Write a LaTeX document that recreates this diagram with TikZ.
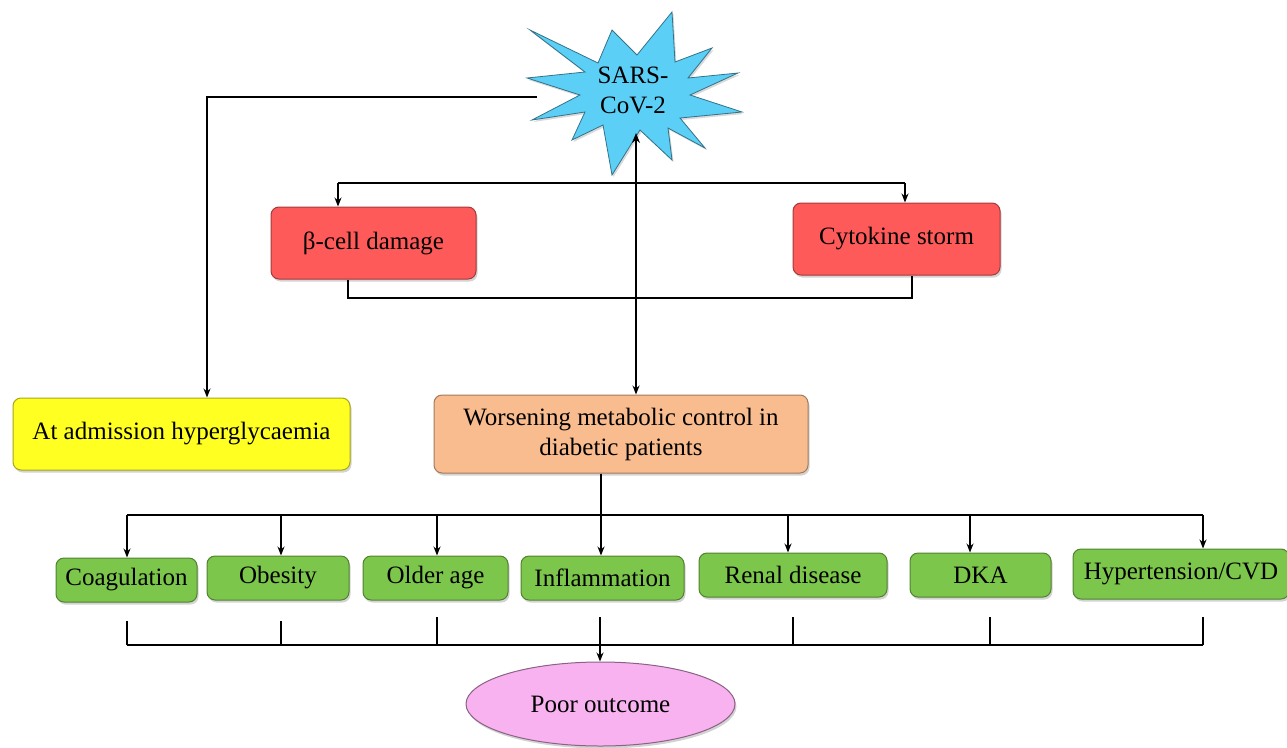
\documentclass[tikz,border=0pt]{standalone}
\usepackage{fontspec}
\setmainfont{Liberation Serif}
\usetikzlibrary{shapes.geometric,arrows.meta,shadows}
\definecolor{cyel}{HTML}{FFFF22}
\definecolor{corg}{HTML}{F9BC8E}
\definecolor{cred}{HTML}{FF5A5A}
\definecolor{cgrn}{HTML}{7CC64C}
\definecolor{cpnk}{HTML}{F9B2F0}
\definecolor{cstar}{HTML}{5CCFF7}
\begin{document}
\begin{tikzpicture}[x=1pt,y=-1pt,
  txt/.style={font=\fontsize{25}{30}\selectfont, align=center, inner sep=0pt},
  box/.style={txt, draw=#1!65!black, fill=#1, rounded corners=8pt, line width=1pt,
    drop shadow={opacity=0.35,shadow xshift=1.5pt,shadow yshift=-2.5pt}},
  conn/.style={line width=1.4pt, black},
  arr/.style={conn, -{Stealth[length=9pt,width=7pt]}},
  darr/.style={conn, {Stealth[length=10pt,width=8pt]}-{Stealth[length=9pt,width=7pt]}}]
\useasboundingbox (0,0) rectangle (1287,747);

% star
\draw[fill=cstar, draw=cstar!55!black, line width=0.8pt,
  drop shadow={opacity=0.3,shadow xshift=1.5pt,shadow yshift=-2pt}]
  (530,30) -- (598,63) -- (612,30) -- (637,55) -- (672,12) -- (675,62)
  -- (712,48) -- (688,78) -- (738,73) -- (690,95) -- (742,112) -- (680,118)
  -- (705,148) -- (668,128) -- (672,160) -- (640,130) -- (612,175) -- (603,125)
  -- (572,140) -- (585,112) -- (532,120) -- (580,95) -- (527,78) -- (585,72) -- cycle;
\node[txt] (sars) at (633,90) {SARS-\\CoV-2};
\coordinate (sarsL) at (537,97);
\coordinate (sarsB) at (636,133);

% boxes
\node[box=cyel, minimum width=337pt, minimum height=72pt] (adm) at (181.5,434) {At admission hyperglycaemia};
\node[box=corg, minimum width=374pt, minimum height=78pt] (worse) at (621,434) {Worsening metabolic control in\\diabetic patients};
\node[box=cred, minimum width=205pt, minimum height=72pt] (beta) at (373.5,243) {β-cell damage};
\node[box=cred, minimum width=207pt, minimum height=72pt] (cyto) at (896.5,239) {Cytokine storm};

\node[box=cgrn, minimum width=141pt, minimum height=44pt] (coag) at (126.5,580) {Coagulation};
\node[box=cgrn, minimum width=142pt, minimum height=44pt] (obes) at (278,578) {Obesity};
\node[box=cgrn, minimum width=145pt, minimum height=44pt] (old) at (435.5,578) {Older age};
\node[box=cgrn, minimum width=163pt, minimum height=44pt] (infl) at (602.5,578) {Inflammation};
\node[box=cgrn, minimum width=188pt, minimum height=44pt] (renal) at (793,575) {Renal disease};
\node[box=cgrn, minimum width=141pt, minimum height=44pt] (dka) at (980.5,575) {DKA};
\node[box=cgrn, minimum width=216pt, minimum height=50pt] (hyp) at (1181,574) {Hypertension/CVD};

\node[txt, ellipse, draw=cpnk!55!black, fill=cpnk, line width=1pt,
  minimum width=269pt, minimum height=84pt,
  drop shadow={opacity=0.35,shadow xshift=1.5pt,shadow yshift=-2.5pt}] (poor) at (600.5,704) {Poor outcome};

% connectors top
\draw[arr] (sarsL) -- (207,97) -- (207,97 |- adm.north);
\draw[darr] (sarsB) -- (sarsB |- worse.north);
\coordinate (bl) at (338,183);
\coordinate (br) at (905,183);
\draw[conn] (bl) -- (br);
\draw[arr] (bl) -- (bl |- beta.north);
\draw[arr] (br) -- (br |- cyto.north);
\coordinate (rl) at (348,298);
\coordinate (rr) at (912,298);
\draw[conn] (rl |- beta.south) -- (rl) -- (rr) -- (rr |- cyto.south);

% connectors to green
\coordinate (wb) at (601,515);
\coordinate (g1) at (127,515);
\coordinate (g2) at (281,515);
\coordinate (g3) at (437,515);
\coordinate (g5) at (788,515);
\coordinate (g6) at (970,515);
\coordinate (g7) at (1203,515);
\draw[conn] (wb |- worse.south) -- (wb);
\draw[conn] (g1) -- (g7);
\draw[arr] (wb) -- (wb |- infl.north);
\draw[arr] (g1) -- (g1 |- coag.north);
\draw[arr] (g2) -- (g2 |- obes.north);
\draw[arr] (g3) -- (g3 |- old.north);
\draw[arr] (g5) -- (g5 |- renal.north);
\draw[arr] (g6) -- (g6 |- dka.north);
\draw[arr] (g7) -- (g7 |- hyp.north);

% connectors to poor outcome
\coordinate (p1) at (127,645);
\coordinate (p2) at (281,645);
\coordinate (p3) at (437,645);
\coordinate (p4) at (600,645);
\coordinate (p5) at (793,645);
\coordinate (p6) at (990,645);
\coordinate (p7) at (1203,645);
\draw[conn] (p1) -- (p7);
\draw[conn] (p1) -- ++(0,-24);
\draw[conn] (p2) -- ++(0,-24);
\draw[conn] (p3) -- ++(0,-28);
\draw[conn] (p4) -- ++(0,-28);
\draw[conn] (p5) -- ++(0,-28);
\draw[conn] (p6) -- ++(0,-28);
\draw[conn] (p7) -- ++(0,-28);
\draw[arr] (p4) -- (p4 |- poor.north);
\end{tikzpicture}
\end{document}
